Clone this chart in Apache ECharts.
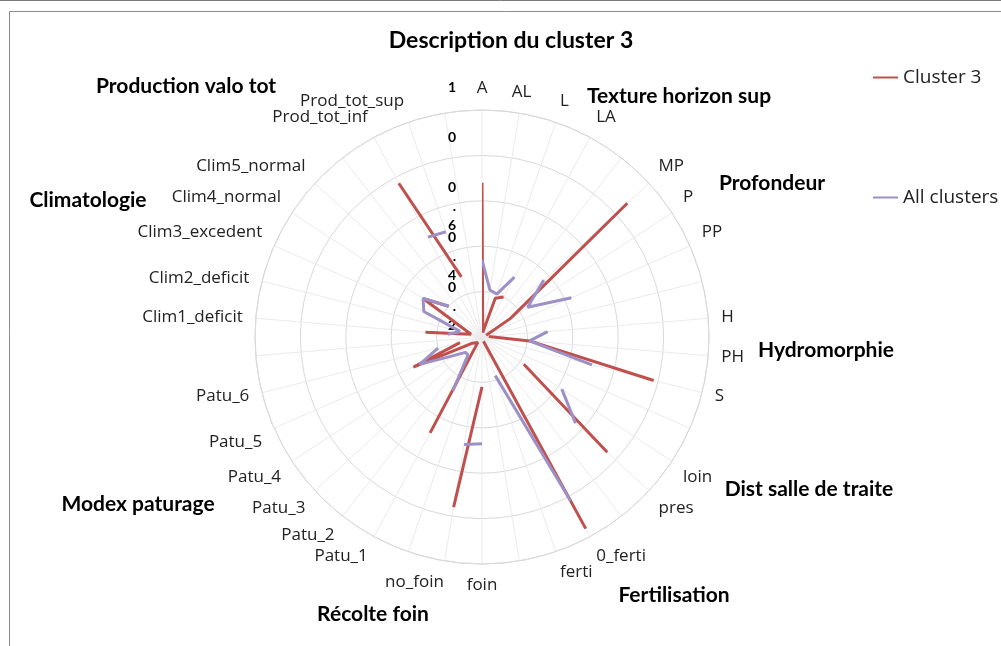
<!DOCTYPE html>
<html>
<head>
<meta charset="utf-8">
<script src="https://cdn.jsdelivr.net/npm/echarts@6/dist/echarts.min.js"></script>
<style>
  html, body { margin: 0; padding: 0; background: #fff; }
  #chart { width: 1001px; height: 646px; }
</style>
</head>
<body>
<div id="chart"></div>
<script>
// spokes of the radar, empty names are the separators between groups
const categories = [
  "A", "AL", "L", "LA", "",
  "MP", "P", "PP", "",
  "H", "PH", "S", "",
  "loin", "pres", "",
  "0_ferti", "ferti", "",
  "foin", "no_foin", "",
  "Patu_1", "Patu_2", "Patu_3", "Patu_4", "Patu_5", "Patu_6", "",
  "Clim1_deficit", "Clim2_deficit", "Clim3_excedent", "Clim4_normal", "Clim5_normal", "",
  "Prod_tot_inf", "Prod_tot_sup", ""
];

// "-" = blank cell, the line is broken there
const cluster3 = [
  0.68, 0.02, 0.18, 0.20, "-",
  0.87, 0.15, 0.02, "-",
  0.03, 0.21, 0.78, "-",
  0.22, 0.75, "-",
  0.96, 0.02, "-",
  0.22, 0.76, "-",
  0.48, 0.03, 0.03, 0.05, 0.33, 0.10, "-",
  0.25, 0.05, 0.05, 0.31, 0.20, "-",
  0.77, 0.28, "-"
];

const allClusters = [
  0.34, 0.21, 0.20, 0.30, "-",
  0.37, 0.24, 0.43, "-",
  0.29, 0.21, 0.50, "-",
  0.42, 0.56, "-",
  0.82, 0.18, "-",
  0.47, 0.48, "-",
  0.27, 0.10, 0.10, 0.15, 0.30, 0.20, "-",
  0.15, 0.10, 0.28, 0.31, 0.20, "-",
  0.50, 0.49, "-"
];

// radial tick labels as they show in the picture (wrapped one char per line)
const radiusTicks = { 0: "0", 0.2: "0\n.\n2", 0.4: "0\n.\n4", 0.6: "0\n.\n6", 0.8: "0", 1: "1" };

const groupNames = [
  "Production valo tot", "Texture horizon sup", "Profondeur", "Climatologie",
  "Hydromorphie", "Dist salle de traite", "Modex paturage", "Fertilisation",
  "Récolte foin"
];
// where each group title sits (centre of the text)
const groupPos = [
  [186, 86], [679, 96], [772, 183], [88, 200],
  [826, 350], [809, 489], [138, 504], [674, 595], [373, 614]
];

const RED = "#c0504d";
const PURPLE = "#9d90c6";
const CENTER = [482, 337];
const RADIUS = 227;

const chart = echarts.init(document.getElementById("chart"));

const groupTexts = groupNames.map((name, i) => ({
  type: "text",
  x: groupPos[i][0],
  y: groupPos[i][1],
  style: {
    text: name,
    fill: "#000",
    font: "bold 21px Lato",
    textAlign: "center",
    textVerticalAlign: "middle"
  }
}));

// "no_foin" hangs to the left of its spoke in the picture
const angleData = categories.map((c) =>
  c === "no_foin" ? { value: c, textStyle: { padding: [0, 56, 0, 0] } } : c
);

chart.setOption({
  animation: false,
  backgroundColor: "#fff",
  title: {
    text: "Description du cluster 3",
    left: 506,
    top: 24,
    textAlign: "center",
    textStyle: { fontFamily: "Lato", fontWeight: "bold", fontSize: 23, color: "#000" }
  },
  legend: {
    data: ["Cluster 3", "All clusters"],
    orient: "vertical",
    left: 868,
    top: 63,
    itemGap: 101,
    itemWidth: 25,
    itemHeight: 2,
    icon: "rect",
    textStyle: { fontFamily: "Open Sans", fontSize: 19, color: "#222" }
  },
  polar: [
    { center: CENTER, radius: RADIUS },
    // full circle frame for the rings
    { center: CENTER, radius: RADIUS },
    // only carries the radial tick labels, which Excel spreads a bit wider
    { center: [482, 328], radius: 250 }
  ],
  angleAxis: [
    {
      polarIndex: 0,
      type: "category",
      data: angleData,
      startAngle: 90,
      clockwise: true,
      boundaryGap: false,
      axisLine: { show: false },
      axisTick: { show: false },
      splitLine: { show: true, lineStyle: { color: "#ebebeb", width: 1 } },
      axisLabel: { interval: 0, margin: 13, fontFamily: "Open Sans", fontSize: 17, color: "#222" }
    },
    {
      polarIndex: 1,
      type: "value",
      min: 0,
      max: 360,
      startAngle: 90,
      axisLine: { show: true, lineStyle: { color: "#d9d9d9", width: 1 } },
      axisTick: { show: false },
      axisLabel: { show: false },
      splitLine: { show: false }
    },
    {
      polarIndex: 2,
      type: "value",
      startAngle: 90,
      show: false
    }
  ],
  radiusAxis: [
    {
      polarIndex: 0,
      type: "value",
      min: 0,
      max: 1,
      interval: 0.2,
      axisLine: { show: false },
      axisTick: { show: false },
      axisLabel: { show: false },
      splitLine: { show: false }
    },
    {
      polarIndex: 1,
      type: "value",
      min: 0,
      max: 1,
      interval: 0.2,
      axisLine: { show: false },
      axisTick: { show: false },
      axisLabel: { show: false },
      splitLine: { show: true, lineStyle: { color: "#d9d9d9", width: 1 } }
    },
    {
      polarIndex: 2,
      type: "value",
      min: 0,
      max: 1,
      interval: 0.2,
      axisLine: { show: false },
      axisTick: { show: false },
      splitLine: { show: false },
      axisLabel: {
        margin: 26,
        fontFamily: "Lato",
        fontWeight: "bold",
        fontSize: 14,
        lineHeight: 19,
        verticalAlign: "top",
        color: "#000",
        formatter: (v) => radiusTicks[Math.round(v * 10) / 10]
      }
    }
  ],
  series: [
    {
      name: "Cluster 3",
      type: "line",
      coordinateSystem: "polar",
      polarIndex: 0,
      data: cluster3,
      symbol: "none",
      connectNulls: false,
      color: RED,
      lineStyle: { color: RED, width: 3 }
    },
    {
      name: "All clusters",
      type: "line",
      coordinateSystem: "polar",
      polarIndex: 0,
      data: allClusters,
      symbol: "none",
      connectNulls: false,
      color: PURPLE,
      lineStyle: { color: PURPLE, width: 3 }
    }
  ],
  graphic: [
    {
      type: "rect",
      shape: { x: 9.5, y: 11.5, width: 1000, height: 640 },
      style: { fill: "none", stroke: "#8c8c8c", lineWidth: 1 },
      silent: true
    },
    {
      type: "line",
      shape: { x1: 0, y1: 0.5, x2: 1001, y2: 0.5 },
      style: { stroke: "#7a7a7a", lineWidth: 1 },
      silent: true
    }
  ].concat(groupTexts)
});
</script>
</body>
</html>
